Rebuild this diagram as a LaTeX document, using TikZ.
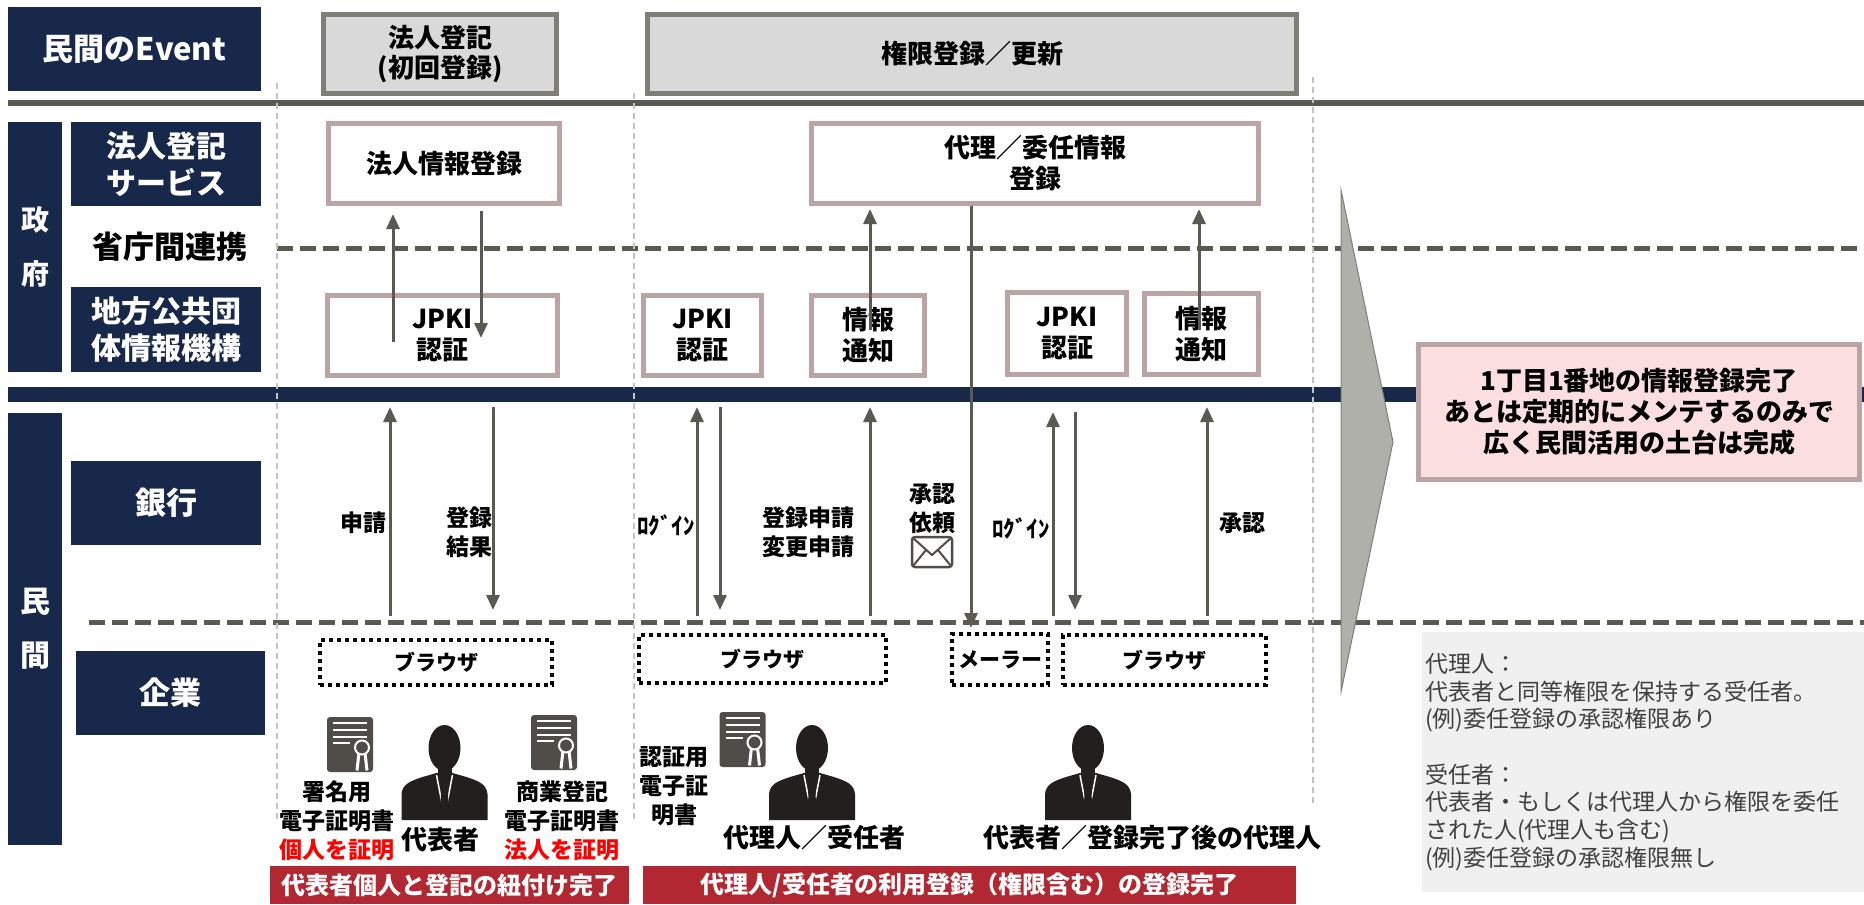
\documentclass[tikz,border=0pt]{standalone}
\usepackage{fontspec}
\setmainfont{Noto Sans CJK JP}
\usetikzlibrary{arrows.meta,positioning}

\definecolor{navy}{RGB}{24,40,74}
\definecolor{linegray}{RGB}{90,90,82}
\definecolor{evtfill}{RGB}{217,217,217}
\definecolor{evtline}{RGB}{127,127,120}
\definecolor{rosegray}{RGB}{186,164,164}
\definecolor{bannerred}{RGB}{178,40,50}
\definecolor{chevfill}{RGB}{175,176,170}
\definecolor{pinkfill}{RGB}{250,222,224}
\definecolor{notefill}{RGB}{240,240,240}
\definecolor{notetext}{RGB}{64,64,64}
\definecolor{sepgray}{RGB}{195,195,195}
\definecolor{icongray}{RGB}{80,77,73}
\definecolor{suit}{RGB}{35,31,31}

\newcommand\sz[2]{\fontsize{#1}{#2}\selectfont}

\tikzset{
  lane/.style={fill=navy, text=white, font=\bfseries\sz{30}{37}, align=center, inner sep=0pt},
  event/.style={draw=evtline, line width=5pt, fill=evtfill, font=\bfseries\sz{26}{30}, align=center, inner sep=0pt, minimum height=79pt},
  govbox/.style={draw=rosegray, line width=5pt, fill=white, font=\bfseries\sz{26}{31}, align=center, inner sep=0pt, minimum height=80pt},
  flow/.style={draw=linegray, line width=3pt, -{Triangle[length=15pt,width=13pt]}},
  tag/.style={font=\bfseries\sz{23}{29}, align=center, inner sep=0pt},
  who/.style={font=\bfseries\sz{26}{30}, inner sep=0pt},
  clientbox/.style={draw=black, line width=4pt, dash pattern=on 4pt off 4pt, font=\bfseries\sz{21}{25}, inner sep=0pt},
  banner/.style={fill=bannerred, text=white, font=\bfseries\sz{24}{28}, inner sep=0pt, minimum height=38pt},
  sep/.style={draw=sepgray, line width=1.5pt, dash pattern=on 6pt off 4pt},
  lanebreak/.style={draw=linegray, line width=5pt, dash pattern=on 16pt off 7pt},
  silhouette/.pic={
    \fill[suit] (-43,0) -- (-43,-26) .. controls (-42,-36) and (-34,-39) .. (-22,-43)
      -- (-8,-47) -- (8,-47) -- (22,-43) .. controls (34,-39) and (42,-36) .. (43,-26) -- (43,0) -- cycle;
    \fill[suit] (-7,-54) rectangle (7,-42);
    \fill[suit] (0,-72) ellipse (16 and 23);
    \draw[white, line width=1.5pt] (-8,-45) -- (-2,-14) (8,-45) -- (2,-14);
    \fill[suit] (-3,-45) -- (3,-45) -- (4,-14) -- (0,-8) -- (-4,-14) -- cycle;
  },
  certificate/.pic={
    \fill[icongray, rounded corners=3pt] (-23,-27.5) rectangle (23,27.5);
    \draw[white, line width=2.5pt] (-17,-21.5) -- (17,-21.5) (-17,-14.5) -- (17,-14.5)
      (-17,-7.5) -- (17,-7.5) (-17,-1.5) -- (0,-1.5);
    \draw[white, line width=3pt] (9,8) -- (7,26) (15,8) -- (17,26);
    \draw[white, line width=2pt, fill=icongray] (12,3) circle (7);
  },
  envelope/.pic={
    \draw[icongray, line width=2.5pt, fill=white, rounded corners=3pt] (-20,-15) rectangle (20,15);
    \draw[icongray, line width=2pt] (-19,-14) -- (0,3) -- (19,-14) (-19,14) -- (-6,-2) (19,14) -- (6,-2);
  }
}

\begin{document}
\begin{tikzpicture}[x=1pt,y=-1pt]
\useasboundingbox (0,0) rectangle (1864,905);

% lane borders
\draw[line width=5.5pt, linegray] (8,103) -- (1864,103);
\draw[line width=15pt, navy] (8,394.5) -- (1864,394.5);
\draw[lanebreak] (277,248) -- (1864,248);
\draw[lanebreak] (89,622) -- (1864,622);
\foreach \x/\t/\b in {277/83/820, 634/93/820, 1313/77/805}
  \draw[sep] (\x,\t) -- (\x,\b);

% row headers
\node[lane, minimum width=253pt, minimum height=84pt, font=\bfseries\sz{31}{36}] (evt) at (134.5,49) {民間のEvent};
\node[lane, minimum width=54pt, minimum height=250pt, font=\bfseries\sz{28}{54}] (gov) at (35,247) {政\\府};
\node[lane, minimum width=190pt, minimum height=84pt] (regsvc) at (166,164) {法人登記\\サービス};
\node[font=\bfseries\sz{31}{37}, inner sep=0pt] (liaison) at (170,247) {省庁間連携};
\node[lane, minimum width=190pt, minimum height=85pt] (jlis) at (166,329.5) {地方公共団\\体情報機構};
\node[lane, minimum width=54pt, minimum height=432pt, font=\bfseries\sz{30}{54}] (priv) at (35,629) {民\\間};
\node[lane, minimum width=190pt, minimum height=84pt, font=\bfseries\sz{31}{37}] (bank) at (166,503) {銀行};
\node[lane, minimum width=189pt, minimum height=84pt, font=\bfseries\sz{31}{37}] (corp) at (170.5,693) {企業};

% events
\node[event, minimum width=233pt] (ev1) at (440,54) {法人登記\\(初回登録)};
\node[event, minimum width=649pt] (ev2) at (972,54) {権限登録／更新};

% government side
\node[govbox, minimum width=231pt] (corpreg) at (444,163.5) {法人情報登録};
\node[govbox, minimum width=230pt] (jpki1) at (442.5,335.5) {JPKI\\認証};
\node[govbox, minimum width=118pt] (jpki2) at (702.5,335.5) {JPKI\\認証};
\node[govbox, minimum width=113pt] (notify1) at (868,335.5) {情報\\通知};
\node[govbox, minimum width=447pt] (proxyreg) at (1035,163.5) {代理／委任情報\\登録};
\node[govbox, minimum width=119pt, minimum height=82pt] (jpki3) at (1067,333.5) {JPKI\\認証};
\node[govbox, minimum width=114pt, minimum height=81pt] (notify2) at (1201.5,334) {情報\\通知};

% browsers and mailer
\node[clientbox, minimum width=232pt, minimum height=45pt] (browser1) at (436,662.5) {ブラウザ};
\node[clientbox, minimum width=247pt, minimum height=48pt] (browser2) at (762.5,659) {ブラウザ};
\node[clientbox, minimum width=96pt, minimum height=51pt] (mailer) at (1000,659.5) {メーラー};
\node[clientbox, minimum width=203pt, minimum height=50pt] (browser3) at (1164.5,660) {ブラウザ};

% flows between the government boxes
\coordinate (up1) at (393,342);
\coordinate (down1) at (481,338);
\coordinate (up2) at (870,330);
\coordinate (up3) at (1199,330);
\coordinate (mail) at (971,300);
\draw[flow, shorten >=8pt] (up1) -- (up1 |- corpreg.south);
\draw[flow, shorten <=5pt] (down1 |- corpreg.south) -- (down1);
\draw[flow, shorten >=3pt] (up2) -- (up2 |- proxyreg.south);
\draw[flow, shorten >=3pt] (up3) -- (up3 |- proxyreg.south);
\draw[flow, shorten >=4pt] (mail |- proxyreg.south) -- (mail |- mailer.north);

% flows between bank and company
\foreach \n/\x/\t in {apply/390/407, result/493/407, login/697/407, loginres/720/407,
    update/870/407, relogin/1053/412, reloginres/1075/412, approve/1207/407}{
  \coordinate (\n-top) at (\x,\t);
  \coordinate (\n-bot) at (\x,616);
}
\draw[flow] (apply-bot) -- (apply-top);
\draw[flow, shorten >=6pt] (result-top) -- (result-bot);
\draw[flow] (login-bot) -- (login-top);
\draw[flow, shorten >=6pt] (loginres-top) -- (loginres-bot);
\draw[flow] (update-bot) -- (update-top);
\draw[flow] (relogin-bot) -- (relogin-top);
\draw[flow, shorten >=6pt] (reloginres-top) -- (reloginres-bot);
\draw[flow] (approve-bot) -- (approve-top);

\node[tag, anchor=east] (applylbl) at (387,523) {申請};
\node[tag] (resultlbl) at (469,532) {登録\\結果};
\node[tag] (loginlbl) at (666,525) {ﾛｸﾞｲﾝ};
\node[tag] (updatelbl) at (808,532) {登録申請\\変更申請};
\node[tag] (asklbl) at (932,509) {承認\\依頼};
\pic at (932,552) {envelope};
\node[tag] (reloginlbl) at (1021,528) {ﾛｸﾞｲﾝ};
\node[tag] (approvelbl) at (1242,523) {承認};

% people and certificates
\pic at (350,744.5) {certificate};
\pic at (554,742.5) {certificate};
\pic at (742.5,739.5) {certificate};
\pic at (444.5,820) {silhouette};
\pic at (812,820) {silhouette};
\pic at (1088,820) {silhouette};

\node[tag] (signcert) at (337,821) {署名用\\電子証明書\\\textcolor{red}{個人を証明}};
\node[who] (rep) at (440,840) {代表者};
\node[tag] (corpcert) at (562,821) {商業登記\\電子証明書\\\textcolor{red}{法人を証明}};
\node[tag] (authcert) at (674,786) {認証用\\電子証\\明書};
\node[who] (agent) at (814,838) {代理人／受任者};
\node[who] (repagent) at (1152,838) {代表者／登録完了後の代理人};

\node[banner, minimum width=359pt] (done1) at (449.5,885) {代表者個人と登記の紐付け完了};
\node[banner, minimum width=653pt] (done2) at (969.5,885) {代理人/受任者の利用登録（権限含む）の登録完了};

% outcome
\filldraw[fill=chevfill, draw=evtline, line width=1pt] (1341,190) -- (1393,442) -- (1341,692) -- cycle;
\node[draw=rosegray, line width=5pt, fill=pinkfill, minimum width=441pt, minimum height=135pt,
  font=\bfseries\sz{26}{31}, align=center, inner sep=0pt] (result) at (1639,412)
  {1丁目1番地の情報登録完了\\あとは定期的にメンテするのみで\\広く民間活用の土台は完成};
\node[fill=notefill, minimum width=442pt, minimum height=260pt, text width=436pt, inner xsep=3pt,
  align=left, text=notetext, font=\sz{23}{27.7}] (note) at (1643,762)
  {代理人：\\代表者と同等権限を保持する受任者。\\(例)委任登録の承認権限あり\\[27.7pt]受任者：\\代表者・もしくは代理人から権限を委任\\された人(代理人も含む)\\(例)委任登録の承認権限無し};

\end{tikzpicture}
\end{document}
